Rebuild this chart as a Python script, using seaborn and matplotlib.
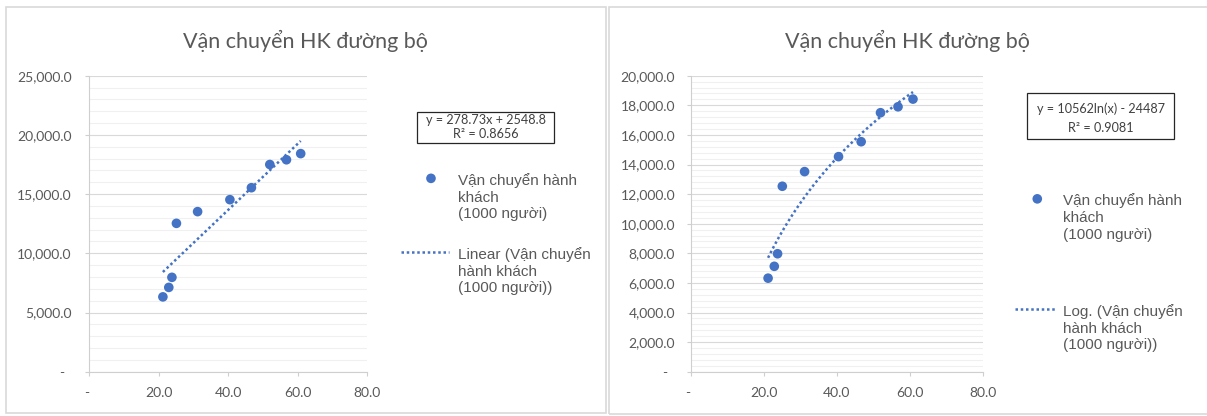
import numpy as np
import pandas as pd
import matplotlib
matplotlib.use("Agg")
import matplotlib.pyplot as plt
import seaborn as sns
from matplotlib.ticker import MultipleLocator, FuncFormatter, FixedLocator
from matplotlib.patches import Rectangle

# ---------------- data ----------------
chart_title = "Vận chuyển HK đường bộ"
series_label = "Vận chuyển hành\nkhách\n(1000 người)"
linear_label = "Linear (Vận chuyển\nhành khách\n(1000 người))"
log_label = "Log. (Vận chuyển\nhành khách\n(1000 người))"
x_values = [21.2, 22.9, 23.8, 25.1, 31.2, 40.5, 46.7, 52.0, 56.8, 60.9]
passengers = [6320, 7120, 7970, 12530, 13520, 14530, 15540, 17500, 17900, 18420]
linear_eq = ["y = 278.73x + 2548.8", "R² = 0.8656"]
log_eq = ["y = 10562ln(x) - 24487", "R² = 0.9081"]
x_ticks = [0, 20, 40, 60, 80]
left_y_ticks = [0, 5000, 10000, 15000, 20000, 25000]
right_y_ticks = [0, 2000, 4000, 6000, 8000, 10000, 12000, 14000, 16000, 18000, 20000]

# ---------------- style ----------------
sns.set_style("white")
plt.rcParams["font.family"] = ["Lato", "DejaVu Sans"]

BLUE = "#4472C4"
TXT = "#595959"
W, H = 1207, 416


def fx(px):
    return px / W


def fy(py):
    return 1 - py / H


fig = plt.figure(figsize=(W / 100, H / 100), dpi=100)
fig.patch.set_facecolor("white")

# panel borders
for x0, x1, y0, y1 in [(5.5, 605.5, 6.5, 413), (608.5, 1215, 6.5, 414)]:
    fig.add_artist(Rectangle((fx(x0), fy(y1)), fx(x1) - fx(x0), fy(y0) - fy(y1),
                             transform=fig.transFigure, fill=False,
                             ec="#D9D9D9", lw=1.2))

df = pd.DataFrame({"x": x_values, "y": passengers})


def yfmt(v, pos):
    if abs(v) < 1e-9:
        return "-  "
    return f"{v:,.1f}"


def xfmt(v, pos):
    if abs(v) < 1e-9:
        return "- "
    return f"{v:.1f}"


def top_align(leg):
    for col in leg._legend_handle_box.get_children():
        for item in col.get_children():
            item.align = "top"


def make_panel(left_px, right_px, ymax, yticks, minor_step, logx, eq_lines,
               eq_box, eq_y, trend_label, title_cx, ypad,
               sc_leg, ln_leg):
    ax = fig.add_axes([fx(left_px), fy(371.7), fx(right_px) - fx(left_px),
                       fy(75.7) - fy(371.7)])
    sns.regplot(data=df, x="x", y="y", ax=ax, ci=None, logx=logx, color=BLUE,
                scatter_kws=dict(s=48, edgecolors="none", alpha=1, zorder=3),
                line_kws=dict(lw=1.8, linestyle=(0, (1, 1.1)), zorder=2))
    ax.set_xlim(0, 80)
    ax.set_ylim(0, ymax)
    ax.set_xlabel("")
    ax.set_ylabel("")
    ax.xaxis.set_major_locator(FixedLocator(x_ticks))
    ax.yaxis.set_major_locator(FixedLocator(yticks))
    ax.yaxis.set_minor_locator(MultipleLocator(minor_step))
    ax.xaxis.set_major_formatter(FuncFormatter(xfmt))
    ax.yaxis.set_major_formatter(FuncFormatter(yfmt))
    ax.grid(axis="y", which="major", color="#D9D9D9", lw=0.8)
    ax.grid(axis="y", which="minor", color="#F0F0F0", lw=0.8)
    ax.grid(axis="x", visible=False)
    ax.set_axisbelow(True)
    for s in ["top", "right"]:
        ax.spines[s].set_visible(False)
    for s in ["left", "bottom"]:
        ax.spines[s].set_color("#CFCFCF")
        ax.spines[s].set_linewidth(0.8)
    ax.tick_params(which="major", length=3.2, width=0.8, color="#CFCFCF",
                   labelcolor=TXT, labelsize=10, direction="out")
    ax.tick_params(axis="y", which="major", pad=ypad, left=True)
    ax.tick_params(axis="x", which="major", pad=8, bottom=True)
    ax.tick_params(which="minor", length=0)

    # title
    fig.text(fx(title_cx), fy(48), chart_title, ha="center", va="baseline",
             fontsize=15.5, color=TXT, family="Lato")

    # equation box
    bx0, by0, bx1, by1 = eq_box
    fig.add_artist(Rectangle((fx(bx0), fy(by1)), fx(bx1) - fx(bx0),
                             fy(by0) - fy(by1), transform=fig.transFigure,
                             fill=False, ec="#262626", lw=0.9))
    for line, yy in zip(eq_lines, eq_y):
        fig.text(fx((bx0 + bx1) / 2), fy(yy), line, ha="center", va="center",
                 fontsize=9.1, color="#404040", family="Lato")

    # legends
    sc_handle = ax.collections[0]
    ln_handle = ax.lines[0]
    common = dict(frameon=False, loc="upper left", bbox_transform=fig.transFigure,
                  borderpad=0, borderaxespad=0, labelcolor=TXT,
                  prop=dict(family="Liberation Sans", size=11),
                  scatteryoffsets=[0.5])
    lx, ly, L, p = sc_leg
    leg1 = ax.legend(handles=[sc_handle], labels=[series_label],
                     bbox_to_anchor=(fx(lx), fy(ly)), handlelength=L,
                     handletextpad=p, **common)
    for t in leg1.get_texts():
        t.set_linespacing(1.25)
    top_align(leg1)
    ax.add_artist(leg1)
    lx, ly, L, p = ln_leg
    leg2 = ax.legend(handles=[ln_handle], labels=[trend_label],
                     bbox_to_anchor=(fx(lx), fy(ly)), handlelength=L,
                     handletextpad=p, **common)
    for t in leg2.get_texts():
        t.set_linespacing(1.25)
    top_align(leg2)
    return ax


make_panel(89.3, 367.0, 25000, left_y_ticks, 1000, False, linear_eq,
           (417.3, 112.3, 554.0, 143.3), (119.5, 134.5), linear_label, 305.5,
           9.4, (415.7, 173.0, 2.0, 0.77), (401.0, 247.0, 3.14, 0.59))

make_panel(690.7, 982.7, 20000, right_y_ticks, 400, True, log_eq,
           (1027.3, 93.3, 1174.0, 139.3), (108.5, 127.5), log_label, 907.3,
           8.0, (1022.0, 193.5, 2.0, 0.70), (1015.0, 304.0, 2.75, 0.41))

fig.savefig("out.png", dpi=100, facecolor="white")
